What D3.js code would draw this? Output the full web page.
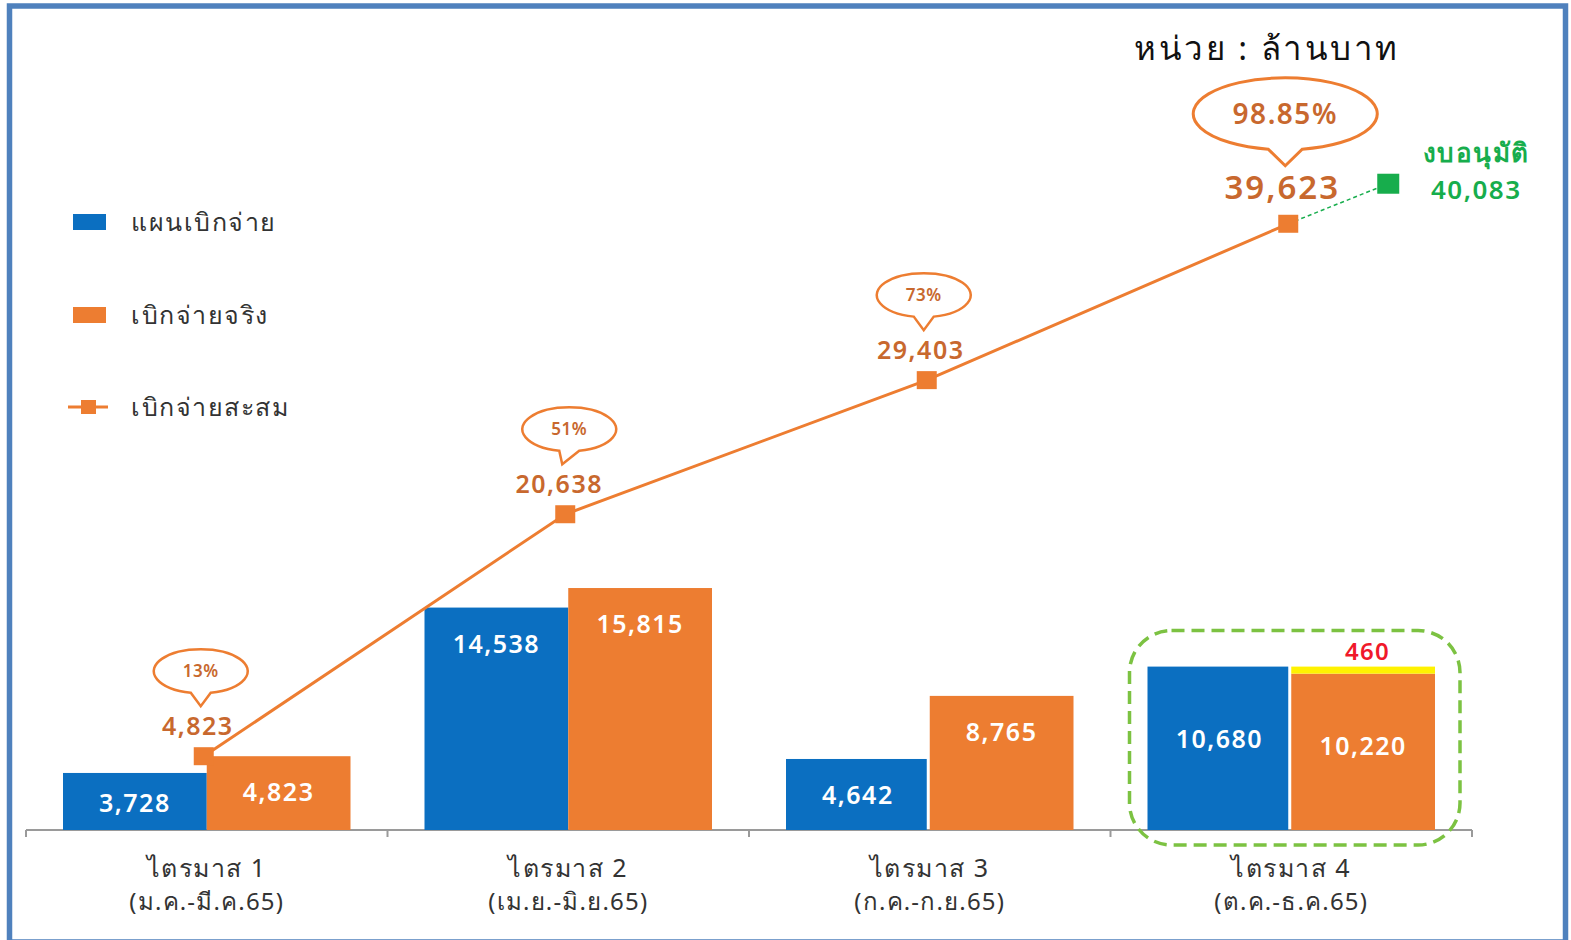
<!DOCTYPE html>
<html><head><meta charset="utf-8">
<script src="https://cdn.jsdelivr.net/npm/d3@7"></script>
<style>
html,body{margin:0;padding:0;background:#fff;}
svg text{font-family:"Noto Sans","Open Sans",sans-serif;}
</style></head>
<body><svg id="c" width="1571" height="940"></svg>
<script>
const categories = ["ไตรมาส 1","ไตรมาส 2","ไตรมาส 3","ไตรมาส 4"];
const periods = ["(ม.ค.-มี.ค.65)","(เม.ย.-มิ.ย.65)","(ก.ค.-ก.ย.65)","(ต.ค.-ธ.ค.65)"];
const planValues = [3728, 14538, 4642, 10680];
const actualValues = [4823, 15815, 8765, 10220];
const cumulativeValues = [4823, 20638, 29403, 39623];
const percentLabels = ["13%","51%","73%","98.85%"];
const approvedBudget = 40083;
const shortfall = 460;
const seriesNames = ["แผนเบิกจ่าย","เบิกจ่ายจริง","เบิกจ่ายสะสม"];
const unitLabel = "หน่วย : ล้านบาท";
const approvedLabel = "งบอนุมัติ";

const BLUE="#0b6fc1", ORANGE="#ed7d31", DARKOR="#c8682e", GREEN="#17ad4c";
const fmt = d3.format(",");
const svg = d3.select("#c");

// frame
svg.append("rect").attr("x",9.5).attr("y",6).attr("width",1556).attr("height",936)
  .attr("fill","none").attr("stroke","#4f81bd").attr("stroke-width",5.5);

const baseY = 830;
const x0 = d3.scaleBand().domain(categories).range([26,1472]).padding(0);
const x1 = d3.scaleBand().domain(["plan","actual"]).range([37, x0.bandwidth()-37]).padding(0);
const y = d3.scaleLinear().domain([0,40000]).range([baseY, baseY-612]);

// axis
const axis = d3.axisBottom(x0).tickSize(0).tickFormat("");
const gx = svg.append("g").attr("transform",`translate(0,${baseY})`).call(axis);
gx.select(".domain").attr("stroke","#9a9a9a").attr("stroke-width",2).attr("d",`M26,0H1472`);
const bounds = categories.map(c=>x0(c)).concat([x0.range()[1]]);
gx.selectAll("line.b").data(bounds).join("line").attr("class","b")
  .attr("x1",d=>d).attr("x2",d=>d).attr("y1",0).attr("y2",7).attr("stroke","#9a9a9a").attr("stroke-width",2);

// category labels
const cl = svg.append("g");
categories.forEach((c,i)=>{
  const cx = x0(c)+x0.bandwidth()/2;
  cl.append("text").attr("x",cx).attr("y",877).attr("text-anchor","middle")
    .attr("font-size",25).attr("letter-spacing",1.5).attr("fill","#333").text(c);
  cl.append("text").attr("x",cx).attr("y",910).attr("text-anchor","middle")
    .attr("font-size",24).attr("letter-spacing",1.2).attr("fill","#333").text(periods[i]);
});

// bars
const rows = categories.map((c,i)=>({c, i, plan:planValues[i], actual:actualValues[i]}));
const g = svg.append("g");
rows.forEach(r=>{
  [["plan",r.plan,BLUE],["actual",r.actual,ORANGE]].forEach(([k,v,col])=>{
    const bx = x0(r.c)+x1(k);
    g.append("rect").attr("x",bx).attr("y",y(v)).attr("width",x1.bandwidth()-(k==="plan"&&r.i>=2?3:0))
      .attr("height",baseY-y(v)).attr("fill",col);
    const top=y(v), h=baseY-top;
    let cy = Math.min(top+h/2+2, top+36);
    if(r.i===3) cy = top+72;
    g.append("text").attr("x",bx+x1.bandwidth()/2).attr("y",cy).attr("dy","0.36em")
      .attr("text-anchor","middle").attr("font-size",25).attr("font-weight",600).attr("letter-spacing",1.5)
      .attr("fill","#fff").text(fmt(v));
  });
});
// shortfall segment on Q4 actual
const last = rows[3];
const sx = x0(last.c)+x1("actual");
g.append("rect").attr("x",sx).attr("y",y(last.actual+shortfall)).attr("width",x1.bandwidth())
  .attr("height",y(last.actual)-y(last.actual+shortfall)).attr("fill","#fff200");
g.append("text").attr("x",sx+x1.bandwidth()*0.53).attr("y",y(last.actual+shortfall)-7)
  .attr("text-anchor","middle").attr("font-size",24).attr("font-weight",600).attr("letter-spacing",1.2)
  .attr("fill","#f0182a").text(fmt(shortfall));

// highlight box
svg.append("rect").attr("x",x0(last.c)+x1("plan")-18).attr("y",y(last.plan)-36)
  .attr("width",x1.bandwidth()*2+43).attr("height",baseY-y(last.plan)+51)
  .attr("rx",42).attr("ry",42).attr("fill","none").attr("stroke","#7cc242")
  .attr("stroke-width",3.5).attr("stroke-dasharray","13,7");

// cumulative line
const pts = cumulativeValues.map((v,i)=>({x:x0(categories[i])+x0.bandwidth()/2-3, y:y(v), v, i}));
const line = d3.line().x(d=>d.x).y(d=>d.y);
svg.append("path").datum(pts).attr("d",line).attr("fill","none").attr("stroke",ORANGE).attr("stroke-width",3);

// approved point
const ap = {x: pts[3].x+100, y: y(approvedBudget)-33};
svg.append("line").attr("x1",pts[3].x).attr("y1",pts[3].y).attr("x2",ap.x).attr("y2",ap.y)
  .attr("stroke",GREEN).attr("stroke-width",1.5).attr("stroke-dasharray","4,3");
svg.append("rect").attr("x",ap.x-11).attr("y",ap.y-10).attr("width",22).attr("height",20).attr("fill",GREEN);
svg.append("text").attr("x",ap.x+88).attr("y",ap.y-31).attr("dy","0.35em").attr("text-anchor","middle")
  .attr("font-size",26).attr("font-weight",600).attr("letter-spacing",1.5).attr("fill",GREEN).text(approvedLabel);
svg.append("text").attr("x",ap.x+88).attr("y",ap.y+6).attr("dy","0.35em").attr("text-anchor","middle")
  .attr("font-size",26).attr("font-weight",600).attr("letter-spacing",1.5).attr("fill",GREEN).text(fmt(approvedBudget));

svg.selectAll("rect.pt").data(pts).join("rect").attr("class","pt")
  .attr("x",d=>d.x-10).attr("y",d=>d.y-9).attr("width",20).attr("height",18).attr("fill",ORANGE);

// value labels & bubbles
pts.forEach(p=>{
  const big = p.i===3;
  const lx = p.x-6;
  svg.append("text").attr("x",lx).attr("y",p.y-(big?37:30)).attr("dy","0.36em").attr("text-anchor","middle")
    .attr("font-size",big?33:25).attr("font-weight",600).attr("letter-spacing",big?2:1.5)
    .attr("fill",DARKOR).text(fmt(p.v));
  const rx = big?92:47, ry = big?36:22, tw = big?17:10;
  const tip = p.y-(big?58:50);
  const cy = tip-(big?16:13)-ry;
  const cx = lx+ (p.i===1?10:3);
  const by = cy + ry*Math.sqrt(1-(tw/rx)**2);
  const d = `M${cx-tw},${by} A${rx},${ry} 0 1 1 ${cx+tw},${by} L${lx+3},${tip} Z`;
  svg.append("path").attr("d",d).attr("fill","#fff").attr("stroke",ORANGE).attr("stroke-width",big?3:2.5);
  svg.append("text").attr("x",cx).attr("y",cy).attr("dy","0.36em").attr("text-anchor","middle")
    .attr("font-size",big?28:17).attr("font-weight",600).attr("letter-spacing",big?1.5:0.5)
    .attr("fill",DARKOR).text(percentLabels[p.i]);
});

// unit label
svg.append("text").attr("x",1267).attr("y",48).attr("dy","0.36em").attr("text-anchor","middle")
  .attr("font-size",33).attr("letter-spacing",2.5).attr("fill","#111").text(unitLabel);

// legend
const lg = svg.append("g").attr("transform","translate(73,222)");
const legendColors = [BLUE, ORANGE, ORANGE];
seriesNames.forEach((n,i)=>{
  const gy = [0,93,185][i];
  if(i<2){
    lg.append("rect").attr("x",0).attr("y",gy-8).attr("width",33).attr("height",16).attr("fill",legendColors[i]);
  } else {
    lg.append("line").attr("x1",-5).attr("x2",35).attr("y1",gy).attr("y2",gy).attr("stroke",ORANGE).attr("stroke-width",3);
    lg.append("rect").attr("x",8).attr("y",gy-7).attr("width",15).attr("height",14).attr("fill",ORANGE);
  }
  lg.append("text").attr("x",58).attr("y",gy).attr("dy","0.36em").attr("font-size",25).attr("letter-spacing",1.5)
    .attr("fill","#333").text(n);
});
</script></body></html>
